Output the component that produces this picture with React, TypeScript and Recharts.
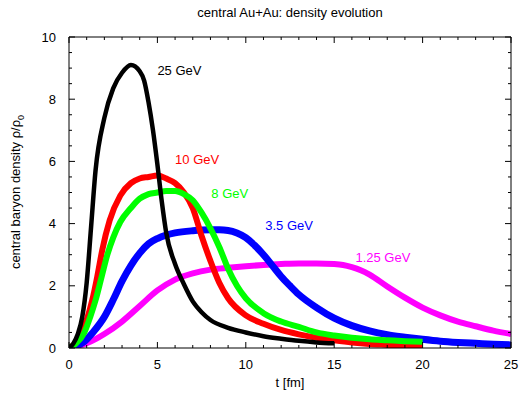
import React from 'react';
import { LineChart, Line, XAxis, YAxis, ReferenceDot } from 'recharts';

const FONT = '"Liberation Sans", Arial, Helvetica, sans-serif';

// 25 GeV
const t25 = [0, 0.25, 0.5, 0.75, 1, 1.25, 1.5, 2, 2.5, 3, 3.5, 4, 4.25, 4.5, 4.75, 5, 5.25, 5.5, 6, 6.5, 7, 7.5, 8, 9, 10, 11, 12, 13, 14, 15];
const rho25 = [0, 0.15, 0.45, 1.0, 2.1, 3.9, 5.7, 7.4, 8.35, 8.85, 9.1, 8.9, 8.6, 7.9, 7.0, 5.9, 4.7, 3.7, 2.7, 2.05, 1.5, 1.15, 0.9, 0.65, 0.5, 0.38, 0.3, 0.23, 0.18, 0.15];

// 10 GeV
const t10 = [0, 0.35, 0.7, 1, 1.32, 1.6, 1.88, 2.3, 2.9, 3.5, 4, 4.5, 5, 5.5, 6, 6.5, 7, 7.5, 8, 8.5, 9, 10, 11, 12, 13, 14, 15, 16, 17, 18, 19, 20];
const rho10 = [0, 0.15, 0.48, 0.9, 1.55, 2.3, 3.15, 4.1, 4.9, 5.3, 5.45, 5.5, 5.55, 5.45, 5.3, 5.0, 4.5, 3.6, 2.8, 2.1, 1.6, 1.05, 0.78, 0.58, 0.44, 0.33, 0.25, 0.18, 0.13, 0.1, 0.07, 0.05];

// 8 GeV
const t8 = [0, 0.4, 0.85, 1.2, 1.51, 1.85, 2.17, 2.5, 2.9, 3.5, 4, 4.5, 5, 5.5, 6, 6.5, 7, 7.5, 8, 8.5, 9, 9.5, 10, 11, 12, 13, 14, 15, 16, 17, 18, 19, 20];
const rho8 = [0, 0.15, 0.48, 1.0, 1.55, 2.3, 3.0, 3.55, 4.05, 4.5, 4.8, 4.95, 5.0, 5.05, 5.05, 4.95, 4.75, 4.35, 3.85, 3.25, 2.55, 2.0, 1.6, 1.12, 0.85, 0.68, 0.5, 0.4, 0.33, 0.28, 0.25, 0.22, 0.2];

// 3.5 GeV
const t35 = [0, 0.85, 1.35, 2, 2.5, 3, 3.5, 4, 4.5, 5, 5.5, 6, 7, 8, 8.5, 9, 9.5, 10, 10.5, 11, 11.5, 12, 12.5, 13, 14, 15, 16, 17, 18, 19, 20, 21, 22, 23, 24, 25];
const rho35 = [0, 0.2, 0.5, 1.0, 1.55, 2.15, 2.65, 3.05, 3.35, 3.52, 3.63, 3.7, 3.77, 3.8, 3.8, 3.78, 3.7, 3.55, 3.3, 3.0, 2.65, 2.3, 2.0, 1.72, 1.3, 0.96, 0.72, 0.55, 0.43, 0.35, 0.28, 0.22, 0.18, 0.15, 0.12, 0.1];

// 1.25 GeV
const t125 = [0, 1, 2, 3, 4, 5, 6, 7, 8, 9, 10, 11, 12, 13, 14, 15, 15.5, 16, 16.5, 17, 18, 19, 20, 21, 22, 23, 24, 25];
const rho125 = [0, 0.15, 0.45, 0.85, 1.35, 1.85, 2.2, 2.4, 2.52, 2.58, 2.63, 2.67, 2.7, 2.72, 2.72, 2.7, 2.67, 2.6, 2.5, 2.36, 1.98, 1.62, 1.3, 1.05, 0.85, 0.7, 0.56, 0.45];

const xTicks = [0, 1, 2, 3, 4, 5, 6, 7, 8, 9, 10, 11, 12, 13, 14, 15, 16, 17, 18, 19, 20, 21, 22, 23, 24, 25];
const xLabels = [0, 5, 10, 15, 20, 25];
const yTicks = [0, 0.5, 1, 1.5, 2, 2.5, 3, 3.5, 4, 4.5, 5, 5.5, 6, 6.5, 7, 7.5, 8, 8.5, 9, 9.5, 10];
const yLabels = [0, 2, 4, 6, 8, 10];

const toRows = (t: number[], rho: number[]) => t.map((x, i) => ({ t: x, rho: rho[i] }));

// drawn in this order, black last so it sits on top
const series = [
    { name: '1.25 GeV', color: '#ff00ff', width: 6, data: toRows(t125, rho125), at: [16.2, 2.9] },
    { name: '3.5 GeV', color: '#0000ff', width: 7, data: toRows(t35, rho35), at: [11.1, 3.95] },
    { name: '10 GeV', color: '#ff0000', width: 6, data: toRows(t10, rho10), at: [6.0, 6.05] },
    { name: '8 GeV', color: '#00ff00', width: 6, data: toRows(t8, rho8), at: [8.05, 4.98] },
    { name: '25 GeV', color: '#000000', width: 4.5, data: toRows(t25, rho25), at: [5.0, 8.93] },
];

const BottomTick = (p: any) => {
    const v = p.payload.value;
    const major = xLabels.includes(v);
    return (
        <g>
            <line x1={p.x} x2={p.x} y1={p.y} y2={p.y - (major ? 6 : 3)} stroke="#000" />
            {major && (
                <text x={p.x} y={p.y + 21} textAnchor="middle" fontSize={13} fontFamily={FONT} fill="#000">{v}</text>
            )}
        </g>
    );
};

const TopTick = (p: any) => {
    const major = xLabels.includes(p.payload.value);
    return <line x1={p.x} x2={p.x} y1={p.y} y2={p.y + (major ? 6 : 3)} stroke="#000" />;
};

const LeftTick = (p: any) => {
    const v = p.payload.value;
    const major = yLabels.includes(v);
    return (
        <g>
            <line x1={p.x} x2={p.x + (major ? 6 : 3)} y1={p.y} y2={p.y} stroke="#000" />
            {major && (
                <text x={p.x - 13} y={p.y + 4.5} textAnchor="end" fontSize={13} fontFamily={FONT} fill="#000">{v}</text>
            )}
        </g>
    );
};

const RightTick = (p: any) => {
    const major = yLabels.includes(p.payload.value);
    return <line x1={p.x} x2={p.x - (major ? 6 : 3)} y1={p.y} y2={p.y} stroke="#000" />;
};

export default function App() {
    return (
        <div style={{ position: 'absolute', left: 0, top: 0, width: 528, height: 393, background: '#fff', fontFamily: FONT }}>
            <LineChart width={528} height={393} margin={{ top: 27, right: 7, bottom: 15, left: 39 }}>
                <XAxis xAxisId={0} type="number" dataKey="t" domain={[0, 25]} ticks={xTicks} interval={0}
                    allowDataOverflow height={30} tickSize={0} tickMargin={0} tickLine={false}
                    axisLine={{ stroke: '#000' }} tick={<BottomTick />} />
                <XAxis xAxisId="top" orientation="top" type="number" dataKey="t" domain={[0, 25]} ticks={xTicks}
                    interval={0} allowDataOverflow height={10} tickSize={0} tickMargin={0} tickLine={false}
                    axisLine={{ stroke: '#000' }} tick={<TopTick />} />
                <YAxis yAxisId={0} type="number" domain={[0, 10]} ticks={yTicks} interval={0} allowDataOverflow
                    width={30} tickSize={0} tickMargin={0} tickLine={false} axisLine={{ stroke: '#000' }}
                    tick={<LeftTick />} />
                <YAxis yAxisId="right" orientation="right" type="number" domain={[0, 10]} ticks={yTicks}
                    interval={0} allowDataOverflow width={10} tickSize={0} tickMargin={0} tickLine={false}
                    axisLine={{ stroke: '#000' }} tick={<RightTick />} />
                {series.map(s => (
                    <Line key={s.name} data={s.data} dataKey="rho" type="monotone" stroke={s.color}
                        strokeWidth={s.width} dot={false} isAnimationActive={false} xAxisId={0} yAxisId={0} />
                ))}
                {series.map(s => (
                    <ReferenceDot key={'lbl' + s.name} x={s.at[0]} y={s.at[1]} r={0} xAxisId={0} yAxisId={0}
                        shape={(p: any) => (
                            <text x={p.cx} y={p.cy} dy="0.35em" fontSize={13} fontFamily={FONT} fill={s.color}>{s.name}</text>
                        )} />
                ))}
            </LineChart>
            <div style={{ position: 'absolute', left: 69, width: 442, top: 5, textAlign: 'center', fontSize: 13 }}>
                central Au+Au: density evolution
            </div>
            <div style={{ position: 'absolute', left: 69, width: 442, top: 375, textAlign: 'center', fontSize: 13 }}>
                t [fm]
            </div>
            <div style={{
                position: 'absolute', left: 17, top: 192, whiteSpace: 'nowrap', fontSize: 13,
                transform: 'translate(-50%, -50%) rotate(-90deg)'
            }}>
                central baryon density ρ/ρ<sub style={{ fontSize: 9 }}>0</sub>
            </div>
        </div>
    );
}
